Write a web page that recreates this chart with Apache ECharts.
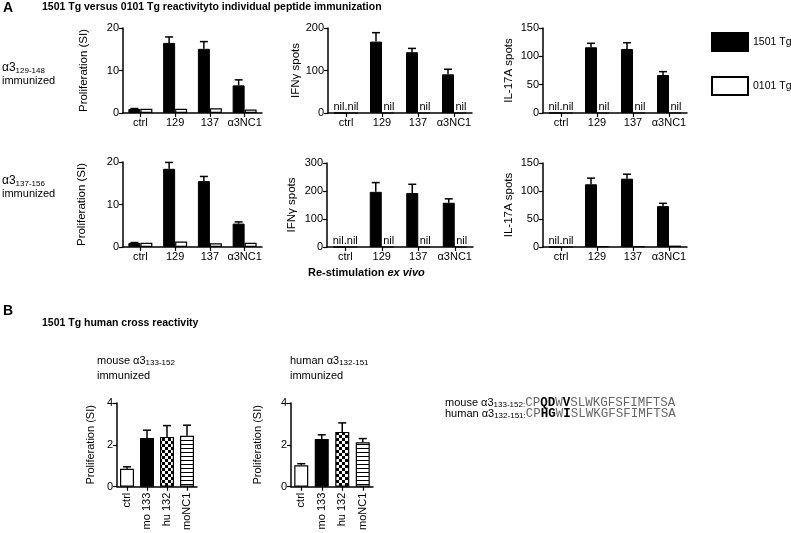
<!DOCTYPE html>
<html><head><meta charset="utf-8">
<script src="https://cdn.jsdelivr.net/npm/echarts@6/dist/echarts.min.js"></script>
<style>html,body{margin:0;padding:0;background:#fff}#c{width:791px;height:533px}</style>
</head><body><div id="c"></div>
<script>
// ---------- DATA ----------
const catsA = ['ctrl', '129', '137', 'α3NC1'];
// Row 1: α3 129-148 immunized
const prolif1_1501 = [0.95, 16.5, 15.1, 6.5];
const prolif1_1501_err = [0.1, 1.4, 1.7, 1.3];
const prolif1_0101 = [1.0, 1.0, 1.1, 0.8];
const ifng1_1501 = [0, 168, 143, 91];
const ifng1_1501_err = [0, 21, 9, 12];
const ifng1_0101 = [0, 0, 0, 0];
const ifng1_nil = ['nil.nil', 'nil', 'nil', 'nil'];
const il17_1_1501 = [0, 116, 113, 67];
const il17_1_1501_err = [0, 7, 11, 6];
const il17_1_0101 = [0, 0, 0, 0];
const il17_1_nil = ['nil.nil', 'nil', 'nil', 'nil'];
// Row 2: α3 137-156 immunized
const prolif2_1501 = [0.95, 18.4, 15.5, 5.5];
const prolif2_1501_err = [0.1, 1.5, 1.1, 0.4];
const prolif2_0101 = [1.0, 1.3, 0.9, 1.0];
const ifng2_1501 = [0, 197, 193, 158];
const ifng2_1501_err = [0, 33, 31, 14];
const ifng2_0101 = [0, 0, 0, 0];
const ifng2_nil = ['nil.nil', 'nil', 'nil', 'nil'];
const il17_2_1501 = [0, 112, 122, 73];
const il17_2_1501_err = [0, 11, 8, 5];
const il17_2_0101 = [0, 1.5, 1, 2.5];
const il17_2_nil = ['nil.nil', '', '', ''];
// Panel B
const catsB = ['ctrl', 'mo 133', 'hu 132', 'moNC1'];
const mouseImm = [0.86, 2.33, 2.38, 2.44];
const mouseImmErr = [0.09, 0.37, 0.54, 0.5];
const humanImm = [1.02, 2.28, 2.62, 2.12];
const humanImmErr = [0.08, 0.2, 0.43, 0.18];

// ---------- STYLE HELPERS ----------
const FF = 'Liberation Sans, Arial, sans-serif';
function checker() {
  const c = document.createElement('canvas'); c.width = 6; c.height = 6;
  const g = c.getContext('2d'); g.fillStyle = '#fff'; g.fillRect(0, 0, 6, 6);
  g.fillStyle = '#000'; g.fillRect(0, 0, 3, 3); g.fillRect(3, 3, 3, 3); return c;
}
function stripes() {
  const c = document.createElement('canvas'); c.width = 4; c.height = 4;
  const g = c.getContext('2d'); g.fillStyle = '#fff'; g.fillRect(0, 0, 4, 4);
  g.fillStyle = '#000'; g.fillRect(0, 0, 4, 1); return c;
}
const fillsB = ['#fff', '#000', { image: checker(), repeat: 'repeat' }, { image: stripes(), repeat: 'repeat' }];

const grids = [], xAxes = [], yAxes = [], series = [];

function errSeries(idx, means, errs, offset) {
  const data = [];
  means.forEach((m, i) => { if (errs[i] > 0) data.push([i, m, m + errs[i]]); });
  return {
    type: 'custom', xAxisIndex: idx, yAxisIndex: idx, z: 5, silent: true,
    encode: { x: 0, y: [1, 2] }, data: data,
    renderItem: function (params, api) {
      const p0 = api.coord([api.value(0), api.value(1)]);
      const p1 = api.coord([api.value(0), api.value(2)]);
      const x = p0[0] + offset;
      return { type: 'group', children: [
        { type: 'line', shape: { x1: x, y1: p0[1], x2: x, y2: p1[1] }, style: { stroke: '#000', lineWidth: 1.5 } },
        { type: 'line', shape: { x1: x - 4, y1: p1[1], x2: x + 4, y2: p1[1] }, style: { stroke: '#000', lineWidth: 1.5 } }
      ] };
    }
  };
}
function nilSeries(idx, labels) {
  const data = [];
  labels.forEach((s, i) => { if (s) data.push([i, 0, s]); });
  return {
    type: 'custom', xAxisIndex: idx, yAxisIndex: idx, z: 6, silent: true,
    encode: { x: 0, y: 1 }, data: data,
    renderItem: function (params, api) {
      const i = api.value(0);
      const p = api.coord([i, 0]);
      const txt = data[params.dataIndex][2];
      const x = i === 0 ? p[0] : p[0] + 7;
      return { type: 'text', x: x, y: p[1] - 1,
        style: { text: txt, font: '11px ' + FF, fill: '#000', align: 'center', verticalAlign: 'bottom', textAlign: 'center', textVerticalAlign: 'bottom' } };
    }
  };
}
function axisCommon() {
  return {
    axisLine: { show: true, onZero: false, lineStyle: { color: '#000', width: 1.5 } },
    axisTick: { show: true, length: 4, lineStyle: { color: '#000', width: 1.2 } },
    splitLine: { show: false },
    axisLabel: { color: '#000', fontSize: 11, fontFamily: FF }
  };
}
function panelA(rect, yMax, yInt, yName, nameGap, black, blackErr, white, nils) {
  const idx = grids.length;
  grids.push(Object.assign({ containLabel: false }, rect));
  const xa = axisCommon();
  xa.axisTick.alignWithLabel = true;
  xa.axisLabel.margin = 4; xa.axisLabel.interval = 0;
  xAxes.push(Object.assign({ type: 'category', gridIndex: idx, data: catsA }, xa));
  const ya = axisCommon();
  ya.axisLabel.margin = 4;
  yAxes.push(Object.assign({ type: 'value', gridIndex: idx, min: 0, max: yMax, interval: yInt,
    name: yName, nameLocation: 'middle', nameRotate: 90, nameGap: nameGap,
    nameTextStyle: { color: '#000', fontSize: 11.5, fontFamily: FF } }, ya));
  series.push({ type: 'bar', name: '1501 Tg', xAxisIndex: idx, yAxisIndex: idx, data: black,
    barWidth: 12, barGap: '0%', itemStyle: { color: '#000', borderColor: '#000', borderWidth: 1 } });
  series.push({ type: 'bar', name: '0101 Tg', xAxisIndex: idx, yAxisIndex: idx, data: white,
    barWidth: 12, barGap: '0%', itemStyle: { color: '#fff', borderColor: '#000', borderWidth: 1.2 } });
  series.push(errSeries(idx, black, blackErr, -6));
  if (nils) series.push(nilSeries(idx, nils));
}
function panelB(rect, vals, errs, nameGap) {
  const idx = grids.length;
  grids.push(Object.assign({ containLabel: false }, rect));
  const xa = axisCommon();
  xa.axisTick.alignWithLabel = true;
  xa.axisLabel.margin = 6; xa.axisLabel.interval = 0; xa.axisLabel.rotate = 90;
  xAxes.push(Object.assign({ type: 'category', gridIndex: idx, data: catsB }, xa));
  const ya = axisCommon();
  ya.axisLabel.margin = 4;
  yAxes.push(Object.assign({ type: 'value', gridIndex: idx, min: 0, max: 4, interval: 2,
    name: 'Proliferation (SI)', nameLocation: 'middle', nameRotate: 90, nameGap: nameGap,
    nameTextStyle: { color: '#000', fontSize: 11, fontFamily: FF } }, ya));
  series.push({ type: 'bar', xAxisIndex: idx, yAxisIndex: idx, barWidth: 14,
    data: vals.map((v, i) => ({ value: v, itemStyle: { color: fillsB[i], borderColor: '#000', borderWidth: 1.2 } })) });
  series.push(errSeries(idx, vals, errs, 0));
}

panelA({ left: 123, top: 28, width: 139, height: 85 }, 20, 10, 'Proliferation (SI)', 33, prolif1_1501, prolif1_1501_err, prolif1_0101, null);
panelA({ left: 328, top: 28, width: 144, height: 85 }, 200, 100, 'IFNγ spots', 25, ifng1_1501, ifng1_1501_err, ifng1_0101, ifng1_nil);
panelA({ left: 543, top: 28, width: 144, height: 85 }, 150, 50, 'IL-17A spots', 28, il17_1_1501, il17_1_1501_err, il17_1_0101, il17_1_nil);
panelA({ left: 123, top: 162, width: 139, height: 85 }, 20, 10, 'Proliferation (SI)', 35, prolif2_1501, prolif2_1501_err, prolif2_0101, null);
panelA({ left: 327, top: 163, width: 146, height: 84 }, 300, 100, 'IFNγ spots', 29, ifng2_1501, ifng2_1501_err, ifng2_0101, ifng2_nil);
panelA({ left: 543, top: 163, width: 144, height: 84 }, 150, 50, 'IL-17A spots', 28, il17_2_1501, il17_2_1501_err, il17_2_0101, il17_2_nil);
panelB({ left: 117, top: 403, width: 80, height: 84 }, mouseImm, mouseImmErr, 21);
panelB({ left: 291, top: 403, width: 82, height: 84 }, humanImm, humanImmErr, 28);

function txt(x, y, text, font, extra) {
  return { type: 'text', x: x, y: y, silent: true,
    style: Object.assign({ text: text, font: font, fill: '#000', verticalAlign: 'middle', textVerticalAlign: 'middle' }, extra || {}) };
}
const richLbl = {
  a: { fontSize: 12, fontFamily: FF, fill: '#000', lineHeight: 14, verticalAlign: 'middle' },
  s: { fontSize: 8, fontFamily: FF, fill: '#000', lineHeight: 6, verticalAlign: 'bottom' }
};
const richSeq = {
  a: { fontSize: 11, fontFamily: FF, fill: '#000', lineHeight: 12, verticalAlign: 'middle' },
  s: { fontSize: 8, fontFamily: FF, fill: '#000', lineHeight: 5, verticalAlign: 'bottom' },
  m: { fontSize: 12.5, fontFamily: 'Liberation Mono, Courier New, monospace', fill: '#666', lineHeight: 12, verticalAlign: 'middle' },
  b: { fontSize: 12.5, fontFamily: 'Liberation Mono, Courier New, monospace', fontWeight: 'bold', fill: '#000', lineHeight: 12, verticalAlign: 'middle' }
};

const graphic = [
  txt(3, 8, 'A', 'bold 14px ' + FF),
  txt(42, 7, '1501 Tg versus 0101 Tg reactivityto individual peptide immunization', 'bold 10.5px ' + FF),
  txt(2, 68, '{a|α3}{s|129-148}', '12px ' + FF, { rich: richLbl }),
  txt(2, 81, 'immunized', '11px ' + FF),
  txt(2, 181, '{a|α3}{s|137-156}', '12px ' + FF, { rich: richLbl }),
  txt(2, 194, 'immunized', '11px ' + FF),
  { type: 'text', x: 308, y: 273, silent: true, style: { text: '{a|Re-stimulation }{b|ex vivo}', verticalAlign: 'middle', textVerticalAlign: 'middle',
    rich: { a: { fontSize: 11, fontWeight: 'bold', fontFamily: FF, fill: '#000' }, b: { fontSize: 11, fontWeight: 'bold', fontStyle: 'italic', fontFamily: FF, fill: '#000' } } } },
  txt(3, 311, 'B', 'bold 14px ' + FF),
  txt(42, 323, '1501 Tg human cross reactivity', 'bold 10.5px ' + FF),
  txt(97, 361, '{a|mouse α3}{s|133-152}', '11px ' + FF, { rich: richSeq }),
  txt(97, 376, 'immunized', '11px ' + FF),
  txt(290, 361, '{a|human α3}{s|132-151}', '11px ' + FF, { rich: richSeq }),
  txt(290, 376, 'immunized', '11px ' + FF),
  txt(445, 403, '{a|mouse α3}{s|133-152:}{m|CP}{b|QD}{m|W}{b|V}{m|SLWKGFSFIMFTSA}', '11px ' + FF, { rich: richSeq }),
  txt(445, 414, '{a|human α3}{s|132-151:}{m|CP}{b|HG}{m|W}{b|I}{m|SLWKGFSFIMFTSA}', '11px ' + FF, { rich: richSeq })
];

const chart = echarts.init(document.getElementById('c'), null, { renderer: 'canvas' });
chart.setOption({
  animation: false,
  backgroundColor: '#fff',
  textStyle: { fontFamily: FF },
  legend: {
    data: ['1501 Tg', '0101 Tg'], orient: 'vertical', left: 706, top: 27, icon: 'rect',
    itemWidth: 36, itemHeight: 18, itemGap: 24, selectedMode: false,
    textStyle: { color: '#000', fontSize: 10.5, fontFamily: FF }
  },
  grid: grids, xAxis: xAxes, yAxis: yAxes, series: series, graphic: graphic
});
</script></body></html>
